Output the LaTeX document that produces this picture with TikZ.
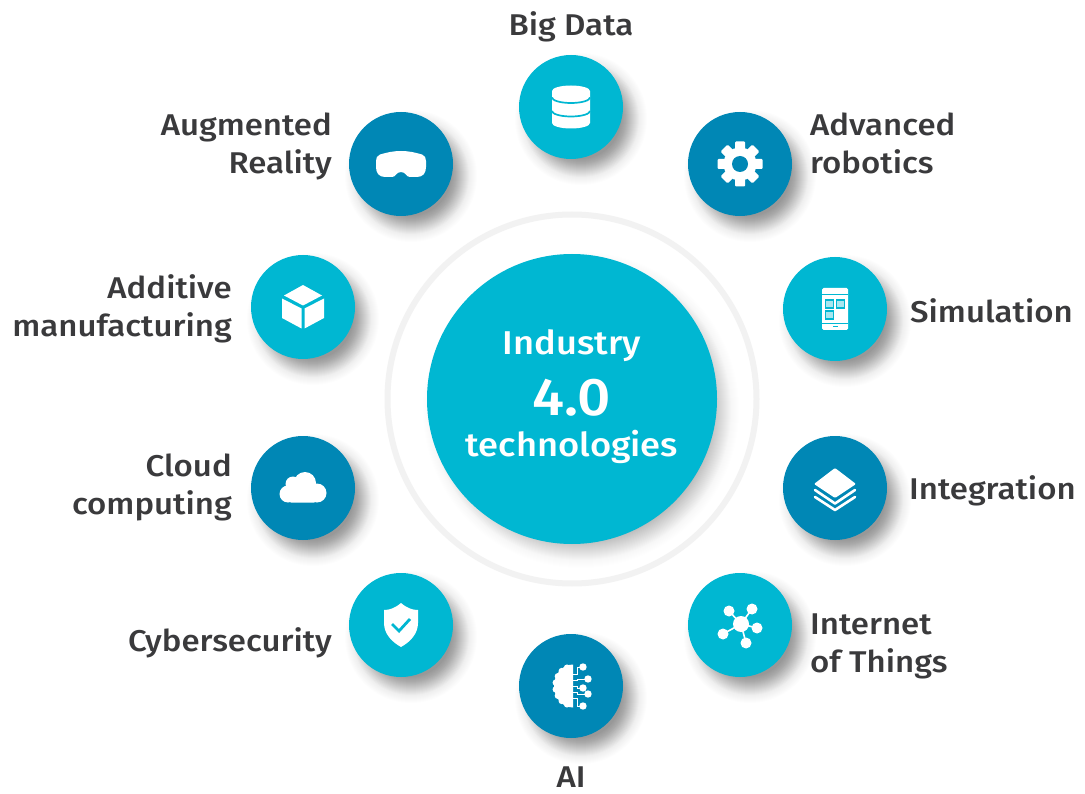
\documentclass[tikz,border=0pt]{standalone}
\usepackage{fontspec}
\setmainfont{Fira Sans}[UprightFont=* Medium,FakeStretch=1.1]
\usepackage{tikz}
\usetikzlibrary{calc}
\definecolor{tealc}{HTML}{00B7D2}
\definecolor{bluec}{HTML}{0087B5}
\definecolor{inkc}{HTML}{3A3A3C}
\definecolor{ringc}{HTML}{F2F2F2}
\tikzset{
  tech/.style={circle,minimum size=104pt,inner sep=0pt},
  lab/.style={text=inkc,font=\fontsize{30}{38}\selectfont,inner sep=0pt},
  labl/.style={lab,anchor=west,align=left},
  labr/.style={lab,anchor=east,align=right},
  midlab/.style={text=white,font=\fontsize{33}{36}\selectfont,inner sep=0pt},
  icon/.style={fill=white,draw=none}
}
\begin{document}
\begin{tikzpicture}[x=1pt,y=-1pt]
\useasboundingbox (0,0) rectangle (1085,794);
\fill[white] (0,0) rectangle (1085,794);

% Positions
\coordinate (pbig) at (571,107);
\coordinate (prob) at (740,164);
\coordinate (psim) at (835,309);
\coordinate (pint) at (835,488);
\coordinate (piot) at (740,625);
\coordinate (pai) at (571,686);
\coordinate (psec) at (401,625);
\coordinate (pcld) at (303,488);
\coordinate (padd) at (303,307);
\coordinate (paug) at (401,164);
\coordinate (pmid) at (572,399);

% Ring
\draw[ringc,line width=6pt] (pmid) circle (184.5);

% Shadows
\foreach \p in {pbig,prob,psim,pint,piot,pai,psec,pcld,padd,paug} {
  \foreach \r in {40,41,...,66} {
    \fill[black,opacity=0.006] ($(\p)+(10,12)$) circle (\r);
  }
  \foreach \r in {40,41,...,58} {
    \fill[black,opacity=0.010] ($(\p)+(10,12)$) circle (\r);
  }
}
\foreach \r in {130,131,...,158} {
  \fill[black,opacity=0.005] ($(pmid)+(9,11)$) circle (\r);
}
\foreach \r in {130,131,...,150} {
  \fill[black,opacity=0.009] ($(pmid)+(9,11)$) circle (\r);
}

% Centre
\node[circle,fill=tealc,minimum size=290pt,inner sep=0pt] (centre) at (pmid) {};
\node[midlab] (industry) at (572,346) {Industry};
\node[midlab,font=\fontsize{53}{56}\selectfont] (four) at (572,398) {4.0};
\node[midlab] (techn) at (572,447) {technologies};

% Discs
\node[tech,fill=tealc] (bigdata) at (pbig) {};
\node[tech,fill=bluec] (robotics) at (prob) {};
\node[tech,fill=tealc] (simul) at (psim) {};
\node[tech,fill=bluec] (integ) at (pint) {};
\node[tech,fill=tealc] (iot) at (piot) {};
\node[tech,fill=bluec] (ai) at (pai) {};
\node[tech,fill=tealc] (cyber) at (psec) {};
\node[tech,fill=bluec] (cloud) at (pcld) {};
\node[tech,fill=tealc] (additive) at (padd) {};
\node[tech,fill=bluec] (augm) at (paug) {};

% Labels
\node[lab] (lbig) at (571,27) {Big Data};
\node[labl] (lrob) at (810,143) {Advanced\\robotics};
\node[labl] (lsim) at (910,311) {Simulation};
\node[labl] (lint) at (909,491) {Integration};
\node[labl] (liot) at (810,646) {Internet\\of Things};
\node[lab] (lai) at (571,777) {AI};
\node[labr] (lsec) at (332,643) {Cybersecurity};
\node[labr] (lcld) at (232,487) {Cloud\\computing};
\node[labr] (ladd) at (232,309) {Additive\\manufacturing};
\node[labr] (laug) at (332,146) {Augmented\\Reality};

% Database
\begin{scope}[shift={(pbig)}]
  \fill[icon] (-19,-16) arc (180:360:19 and 5.5) -- (19,16) arc (0:180:19 and 5.5) -- cycle;
  \draw[tealc,line width=1.7pt] (-19,-9.5) arc (180:0:19 and 5.5);
  \draw[tealc,line width=1.7pt] (-19,4) arc (180:0:19 and 5.5);
\end{scope}

% Gear
\begin{scope}[shift={(prob)}]
  \fill[icon] (0,0) circle (16.5);
  \foreach \a in {0,45,...,315} {
    \fill[icon,rotate=\a,rounded corners=1pt] (-5,-22.5) rectangle (5,-12);
  }
  \fill[bluec] (0,0) circle (8);
\end{scope}

% Headset
\begin{scope}[shift={(paug)}]
  \fill[icon] (0,-13) .. controls (-8,-13) and (-14,-11.5) .. (-21,-9.5)
    .. controls (-24,-8.5) and (-25,-6) .. (-25,-3) -- (-25,3)
    .. controls (-25,9) and (-22,13) .. (-16,13) -- (-9,13)
    .. controls (-5,13) and (-5,8) .. (0,8)
    .. controls (5,8) and (5,13) .. (9,13) -- (16,13)
    .. controls (22,13) and (25,9) .. (25,3) -- (25,-3)
    .. controls (25,-6) and (24,-8.5) .. (21,-9.5)
    .. controls (14,-11.5) and (8,-13) .. (0,-13) -- cycle;
\end{scope}

% Cube
\begin{scope}[shift={(padd)}]
  \fill[icon] (0,-22) -- (19,-11.5) -- (0,-1.5) -- (-19,-11.5) -- cycle;
  \fill[icon] (-21,-8.5) -- (-1.5,1.5) -- (-1.5,21.5) -- (-21,11) -- cycle;
  \fill[icon] (21,-8.5) -- (1.5,1.5) -- (1.5,21.5) -- (21,11) -- cycle;
\end{scope}

% Phone
\begin{scope}[shift={(psim)}]
  \fill[icon,rounded corners=1.5pt] (-13,-21) rectangle (13,21);
  \draw[tealc,line width=0.8pt] (-13,-15) -- (13,-15);
  \draw[tealc,line width=0.8pt] (-13,14) -- (13,14);
  \foreach \x/\y in {-5.5/-5,5.5/-5,-5.5/6} {
    \draw[tealc,line width=1.2pt,fill=tealc!35] ($(\x,\y)+(-4,-4)$) rectangle ($(\x,\y)+(4,4)$);
  }
  \fill[tealc] (-2.5,17) rectangle (2.5,18.2);
\end{scope}

% Layers
\begin{scope}[shift={(pint)}]
  \fill[icon,rounded corners=1pt] (0,-20) -- (21,-4) -- (0,10) -- (-21,-4) -- cycle;
  \draw[white,line width=2.6pt,line cap=round,line join=round] (-20,2) -- (0,15.5) -- (20,2);
  \draw[white,line width=2.6pt,line cap=round,line join=round] (-20,9) -- (0,22) -- (20,9);
\end{scope}

% Cloud
\begin{scope}[shift={(pcld)}]
  \fill[icon] (-15,6) circle (8.5);
  \fill[icon] (-10,-4) circle (7.5);
  \fill[icon] (2,-5) circle (11);
  \fill[icon] (14,5) circle (9.5);
  \fill[icon,rounded corners=3pt] (-15,2) rectangle (14,14.5);
\end{scope}

% Shield
\begin{scope}[shift={(psec)}]
  \fill[icon] (0,-22) .. controls (6,-17) and (11,-15) .. (17,-15) -- (17,-2)
    .. controls (17,9) and (9,17) .. (0,22) .. controls (-9,17) and (-17,9) .. (-17,-2)
    -- (-17,-15) .. controls (-11,-15) and (-6,-17) .. (0,-22) -- cycle;
  \draw[tealc,line width=2.8pt] (-9,-1) -- (-2,6) -- (9,-6);
\end{scope}

% Network
\begin{scope}[shift={(piot)}]
  \fill[icon] (1,-1) circle (8);
  \foreach \x/\y in {-11/-14,12/-16,17/3,-17/9,6/18} {
    \fill[icon] (\x,\y) circle (5.5);
    \draw[white,line width=1.6pt] (1,-1) -- (\x,\y);
  }
\end{scope}

% Brain
\begin{scope}[shift={(pai)}]
  \fill[icon] (2,-21.5) arc (270:90:19 and 21.5) -- cycle;
  \foreach \a in {110,130,...,250} {
    \fill[icon] ($(2,0)+(\a:17.5 and 19.5)$) circle (3.2);
  }
  \foreach \x/\y/\m in {12/-19/-12,17/-7/-6,12/2/0,17/8/6,12/20/12} {
    \fill[icon] (\x,\y) circle (3.7);
    \draw[white,line width=0.9pt] (2,\m) -- (6,\m) -- (6,\y) -- (\x,\y);
  }
\end{scope}
\end{tikzpicture}
\end{document}
